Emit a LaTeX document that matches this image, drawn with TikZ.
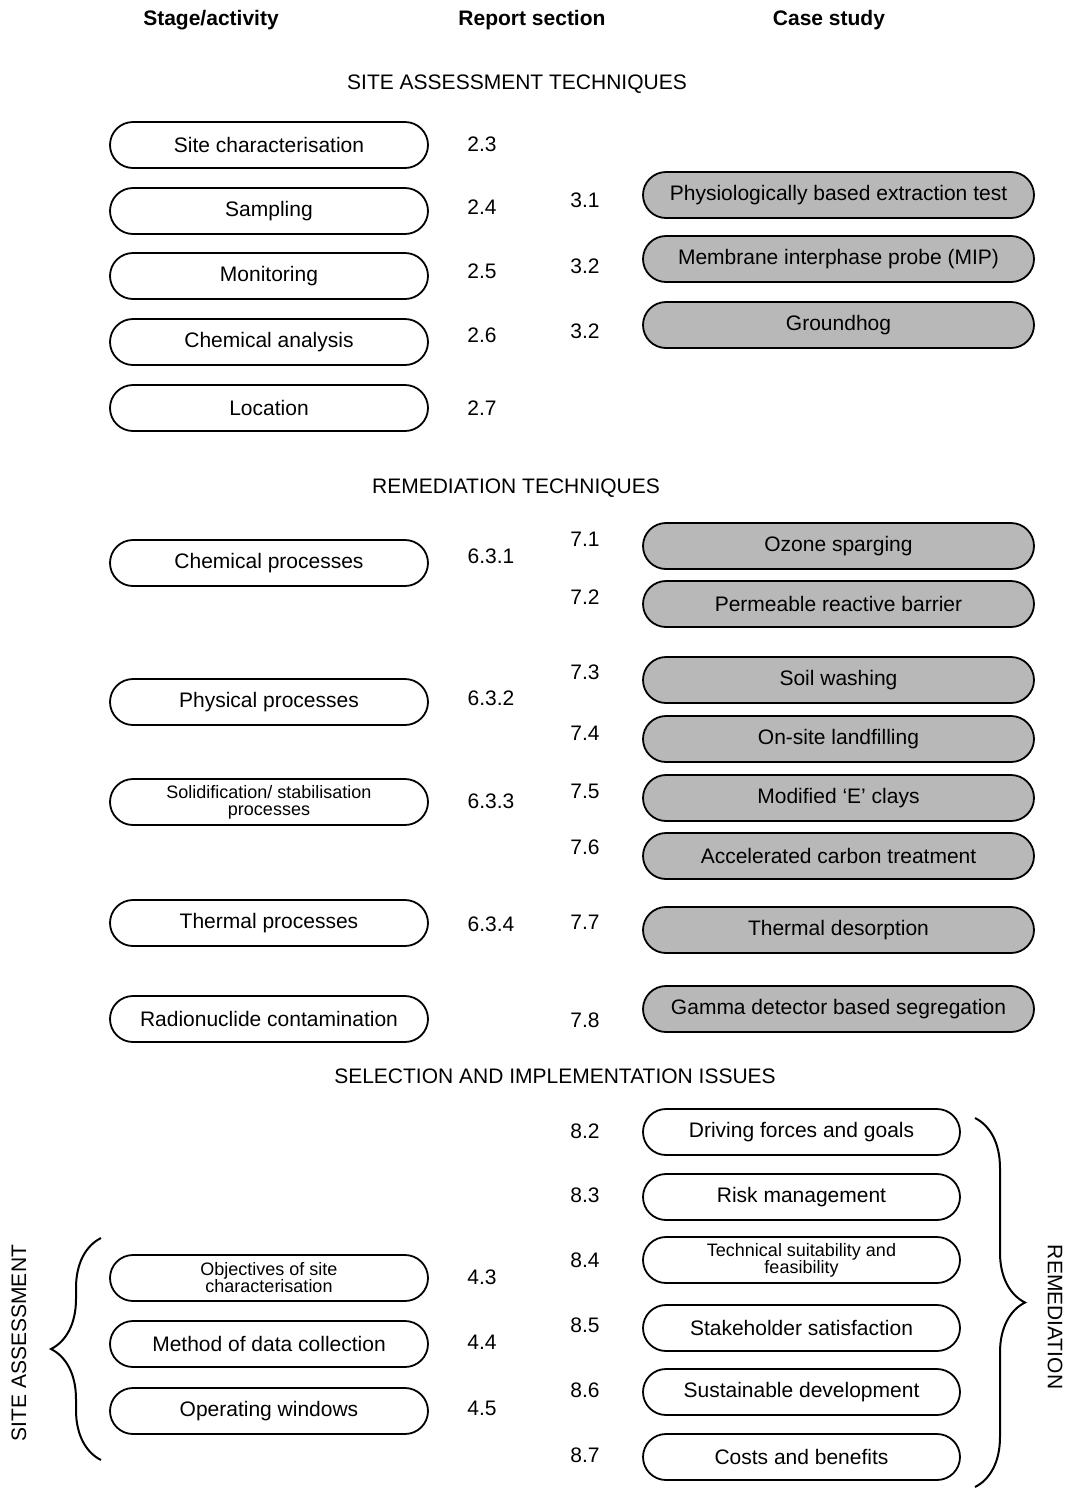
\documentclass[tikz,border=0pt]{standalone}
\usepackage{fontspec}
\setmainfont{Liberation Sans}
\usepackage{tikz}
\usetikzlibrary{decorations.pathreplacing}

\begin{document}
\begin{tikzpicture}[x=1pt, y=-1pt, line width=1.8pt, every node/.style={font=\fontsize{21}{24}\selectfont},
  pill/.style={draw, rounded corners=23pt, minimum height=46pt, inner sep=2pt, align=center},
  stagebox/.style={pill, minimum width=318pt},
  casebox/.style={pill, fill=black!28, minimum width=391pt},
  issuebox/.style={pill, minimum width=317pt},
  twoline/.style={font=\fontsize{18}{17}\selectfont},
  head/.style={font=\fontsize{21}{24}\selectfont\bfseries},
  brace/.style={decorate, decoration={brace, amplitude=50pt}, line width=2pt}]
\useasboundingbox (0,0) rectangle (1079,1492);
\node[head] (hstage) at (211,20) {Stage/activity};
\node[head] (hreport) at (532,20) {Report section};
\node[head] (hcase) at (829,20) {Case study};
\node (tsite) at (517,84) {SITE ASSESSMENT TECHNIQUES};
\node[stagebox] (char) at (269,145) {Site characterisation};
\node[stagebox] (samp) at (269,211) {Sampling};
\node[stagebox] (mon) at (269,276) {Monitoring};
\node[stagebox] (chem) at (269,342) {Chemical analysis};
\node[stagebox] (loc) at (269,408) {Location};
\node (s23) at (482,144) {2.3};
\node (s24) at (482,207) {2.4};
\node (s25) at (482,271) {2.5};
\node (s26) at (482,335) {2.6};
\node (s27) at (482,408) {2.7};
\node (c31) at (585,200) {3.1};
\node (c32a) at (585,266) {3.2};
\node (c32b) at (585,331) {3.2};
\node[casebox] (pbet) at (838.5,195) {Physiologically based extraction test};
\node[casebox] (mip) at (838.5,259) {Membrane interphase probe (MIP)};
\node[casebox] (ghog) at (838.5,325) {Groundhog};
\node (trem) at (516,488) {REMEDIATION TECHNIQUES};
\node[stagebox] (chproc) at (269,563) {Chemical processes};
\node[stagebox] (phproc) at (269,702) {Physical processes};
\node[stagebox, twoline] (solid) at (269,802) {Solidification/ stabilisation\\processes};
\node[stagebox] (thproc) at (269,923) {Thermal processes};
\node[stagebox] (radio) at (269,1019) {Radionuclide contamination};
\node (s631) at (491,556) {6.3.1};
\node (s632) at (491,698) {6.3.2};
\node (s633) at (491,801) {6.3.3};
\node (s634) at (491,924) {6.3.4};
\node (c71) at (585,539) {7.1};
\node (c72) at (585,597) {7.2};
\node (c73) at (585,672) {7.3};
\node (c74) at (585,733) {7.4};
\node (c75) at (585,791) {7.5};
\node (c76) at (585,847) {7.6};
\node (c77) at (585,922) {7.7};
\node (c78) at (585,1020) {7.8};
\node[casebox] (ozone) at (838.5,546) {Ozone sparging};
\node[casebox] (prb) at (838.5,604) {Permeable reactive barrier};
\node[casebox] (wash) at (838.5,680) {Soil washing};
\node[casebox] (landf) at (838.5,739) {On-site landfilling};
\node[casebox] (eclay) at (838.5,798) {Modified ‘E’ clays};
\node[casebox] (carbon) at (838.5,856) {Accelerated carbon treatment};
\node[casebox] (desorb) at (838.5,930) {Thermal desorption};
\node[casebox] (gamma) at (838.5,1009) {Gamma detector based segregation};
\node (tsel) at (555,1076) {SELECTION AND IMPLEMENTATION ISSUES};
\node (i82) at (585,1131) {8.2};
\node (i83) at (585,1195) {8.3};
\node (i84) at (585,1260) {8.4};
\node (i85) at (585,1325) {8.5};
\node (i86) at (585,1390) {8.6};
\node (i87) at (585,1455) {8.7};
\node[issuebox] (drive) at (801.5,1132) {Driving forces and goals};
\node[issuebox] (risk) at (801.5,1197) {Risk management};
\node[issuebox, twoline] (tech) at (801.5,1260) {Technical suitability and\\feasibility};
\node[issuebox] (stake) at (801.5,1328) {Stakeholder satisfaction};
\node[issuebox] (sust) at (801.5,1392) {Sustainable development};
\node[issuebox] (cost) at (801.5,1457) {Costs and benefits};
\node[stagebox, twoline] (obj) at (269,1278) {Objectives of site\\characterisation};
\node[stagebox] (meth) at (269,1344) {Method of data collection};
\node[stagebox] (oper) at (269,1411) {Operating windows};
\node (s43) at (482,1277) {4.3};
\node (s44) at (482,1342) {4.4};
\node (s45) at (482,1408) {4.5};
\coordinate (lbot) at (101,1460);
\coordinate (ltop) at (101,1238);
\coordinate (rtop) at (975,1118);
\coordinate (rbot) at (975,1487);
\draw[brace] (lbot) -- (ltop);
\draw[brace] (rtop) -- (rbot);
\node[rotate=90] (lsa) at (19,1343) {SITE ASSESSMENT};
\node[rotate=-90] (lrem) at (1055,1317) {REMEDIATION};
\end{tikzpicture}
\end{document}
